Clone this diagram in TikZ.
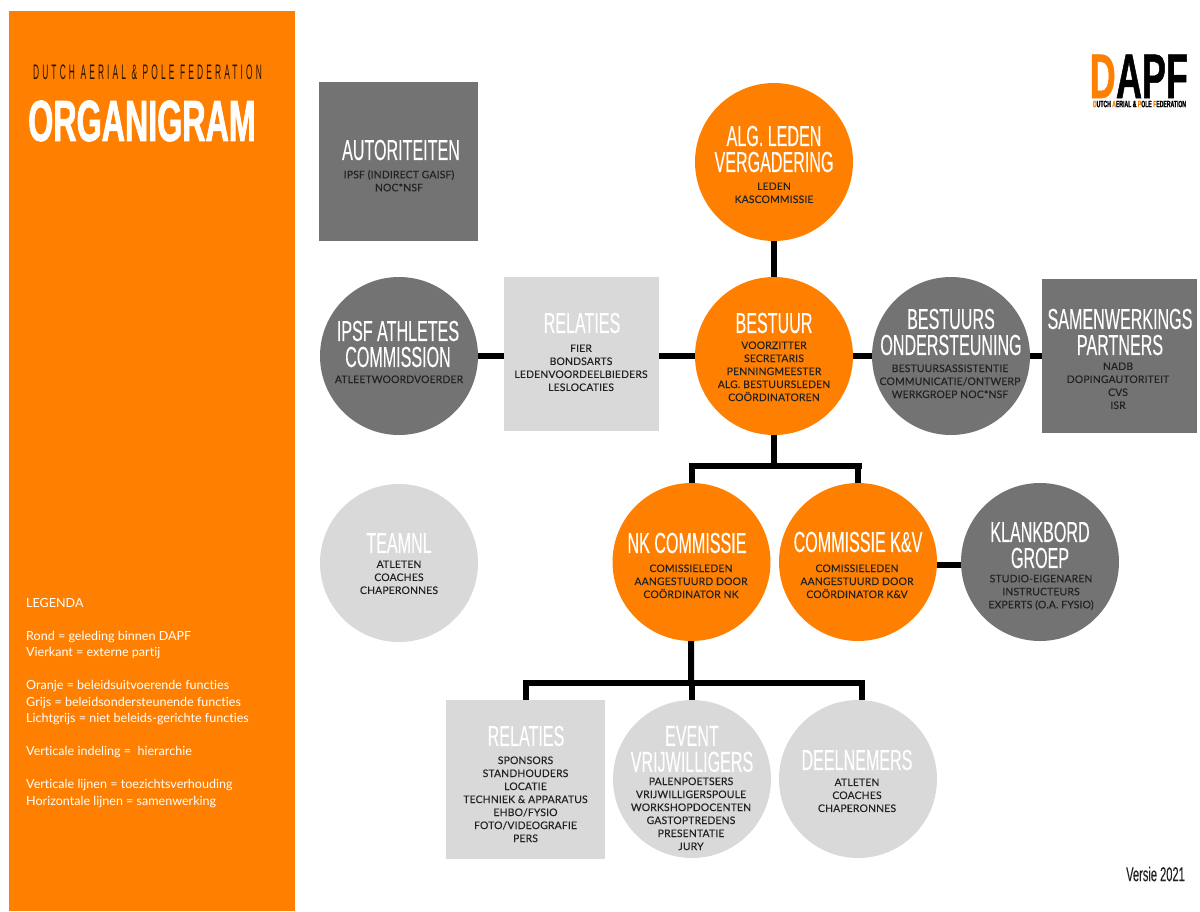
\documentclass[tikz,border=0pt]{standalone}
\usepackage{fontspec}
\setmainfont[Ligatures=NoCommon]{Lato}
\newfontfamily\headfont[FakeStretch=0.555,FakeBold=0.15]{Liberation Sans}
\newfontfamily\bigfont[FakeStretch=0.556,FakeBold=1.2]{Liberation Sans Bold}
\newfontfamily\logofont[FakeStretch=0.57,FakeBold=0.8]{Liberation Sans Bold}
\newfontfamily\subfont[FakeStretch=0.4,LetterSpace=15]{Liberation Sans}
\newfontfamily\listfont[Ligatures=NoCommon,LetterSpace=1.5,FakeBold=0.1]{Lato}
\definecolor{dapforange}{HTML}{FF8000}
\definecolor{dapfgrey}{HTML}{737373}
\definecolor{dapflight}{HTML}{D9D9D9}
\definecolor{dapftext}{HTML}{222222}
\tikzset{
    rond/.style={circle, minimum size=158pt, inner sep=0pt},
    vierkant/.style={rectangle, inner sep=0pt},
    kop/.style={text=white, align=center, inner sep=0pt, font=\headfont\fontsize{29}{26}\selectfont},
    lijst/.style={text=dapftext, align=center, inner sep=0pt, yshift=-0.3pt, font=\listfont\fontsize{10.4}{13}\selectfont},
    lijn/.style={line width=6pt, black}
}
\begin{document}
\begin{tikzpicture}[x=1pt, y=-1pt]
    \useasboundingbox (0,0) rectangle (1200,911);

    % zijbalk
    \fill[dapforange] (9,11) rectangle (295,911);
    \node[inner sep=0pt, text=black!85!dapforange, font=\subfont\fontsize{21}{21}\selectfont] (sub) at (147.5,72) {DUTCH AERIAL \& POLE FEDERATION};
    \node[inner sep=0pt, text=white, font=\bigfont\fontsize{58}{58}\selectfont] (titel) at (142,121) {ORGANIGRAM};
    \node[inner sep=0pt, anchor=north west, text=white, align=left, font=\fontsize{12.55}{16.5}\selectfont] (legenda) at (26,598) {LEGENDA\\[16.5pt]
        Rond = geleding binnen DAPF\\
        Vierkant = externe partij\\[16.5pt]
        Oranje = beleidsuitvoerende functies\\
        Grijs = beleidsondersteunende functies\\
        Lichtgrijs = niet beleids-gerichte functies\\[16.5pt]
        Verticale indeling = \ hierarchie\\[16.5pt]
        Verticale lijnen = toezichtsverhouding\\
        Horizontale lijnen = samenwerking};

    % logo
    \node[inner sep=0pt, anchor=base west, text=dapforange, font=\logofont\fontsize{63}{63}\selectfont] (logod) at (1089.5,98) {D};
    \node[inner sep=0pt, anchor=base west, text=black, font=\logofont\fontsize{63}{63}\selectfont] (logoapf) at (logod.base east) {APF};
    \node[inner sep=0pt, text=black, font=\bigfont\fontsize{9.2}{9}\selectfont] (logosub) at (1139.5,104) {\textcolor{dapforange}{D}UTCH \textcolor{dapforange}{A}ERIAL \& \textcolor{dapforange}{P}OLE \textcolor{dapforange}{F}EDERATION};

    % vormen
    \node[rond, fill=dapforange] (alv) at (774,162) {};
    \node[rond, fill=dapforange] (bestuur) at (774,356) {};
    \node[rond, fill=dapfgrey] (ipsf) at (399,356) {};
    \node[rond, fill=dapfgrey] (onder) at (951,356) {};
    \node[rond, fill=dapflight] (team) at (399,563) {};
    \node[rond, fill=dapforange] (nk) at (691.5,562) {};
    \node[rond, fill=dapforange] (kv) at (858,562) {};
    \node[rond, fill=dapfgrey] (klank) at (1040,562) {};
    \node[rond, fill=dapflight] (event) at (692,779) {};
    \node[rond, fill=dapflight] (deel) at (858,779) {};
    \node[vierkant, fill=dapfgrey, minimum size=159pt] (auto) at (398.5,161.5) {};
    \node[vierkant, fill=dapflight, minimum width=155pt, minimum height=154pt] (rel) at (581.5,354) {};
    \node[vierkant, fill=dapfgrey, minimum width=155pt, minimum height=154pt] (samen) at (1119.5,356) {};
    \node[vierkant, fill=dapflight, minimum size=159pt] (relnk) at (525.5,779.5) {};

    % lijnen
    \draw[lijn] (alv) -- (bestuur);
    \draw[lijn] (ipsf.east) -- (rel.west |- ipsf.east);
    \draw[lijn] (rel.east |- bestuur.west) -- (bestuur.west);
    \draw[lijn] (bestuur.east) -- (onder.west);
    \draw[lijn] (onder.east) -- (samen.west |- onder.east);
    \draw[lijn] ([yshift=-3pt]kv.east) -- ([yshift=-3pt]klank.west);
    \coordinate (splitb) at (774,465.5);
    \coordinate (splitn) at (691,683);
    \coordinate (hoekb) at (862,465.5);
    \coordinate (hoekn) at (865,683);
    \draw[lijn] (bestuur) -- (splitb);
    \draw[lijn] ([xshift=-3pt]nk.north |- splitb) -- (hoekb);
    \draw[lijn] (nk.north |- splitb) -- (nk.north);
    \draw[lijn] (kv.north |- splitb) -- (kv.north);
    \draw[lijn] (nk) -- (splitn);
    \draw[lijn] ([xshift=-3pt]relnk.north |- splitn) -- (hoekn);
    \draw[lijn] (relnk.north |- splitn) -- (relnk.north);
    \draw[lijn] (event.north |- splitn) -- (event.north);
    \draw[lijn] ([xshift=4pt]deel.north |- splitn) -- ([xshift=4pt]deel.north);

    % teksten
    \node[kop] (autokop) at (401,150) {AUTORITEITEN};
    \node[lijst] (autolijst) at (399,180.5) {IPSF (INDIRECT GAISF)\\NOC*NSF};
    \node[kop] (alvkop) at (774,149) {ALG. LEDEN\\VERGADERING};
    \node[lijst] (alvlijst) at (774,192.5) {LEDEN\\KASCOMMISSIE};
    \node[kop] (ipsfkop) at (398,344) {IPSF ATHLETES\\COMMISSION};
    \node[lijst] (ipsflijst) at (399,379) {ATLEETWOORDVOERDER};
    \node[kop] (relkop) at (582,323) {RELATIES};
    \node[lijst] (rellijst) at (581,367.5) {FIER\\BONDSARTS\\LEDENVOORDEELBIEDERS\\LESLOCATIES};
    \node[kop] (bestuurkop) at (774,323) {BESTUUR};
    \node[lijst] (bestuurlijst) at (774,371) {VOORZITTER\\SECRETARIS\\PENNINGMEESTER\\ALG. BESTUURSLEDEN\\COÖRDINATOREN};
    \node[kop] (onderkop) at (951,332) {BESTUURS\\ONDERSTEUNING};
    \node[lijst] (onderlijst) at (950,381) {BESTUURSASSISTENTIE\\COMMUNICATIE/ONTWERP\\WERKGROEP NOC*NSF};
    \node[kop] (samenkop) at (1120,332) {SAMENWERKINGS\\PARTNERS};
    \node[lijst] (samenlijst) at (1118,385.5) {NADB\\DOPINGAUTORITEIT\\CVS\\ISR};
    \node[kop] (teamkop) at (399,543) {TEAMNL};
    \node[lijst] (teamlijst) at (399,577) {ATLETEN\\COACHES\\CHAPERONNES};
    \node[kop] (nkkop) at (687,543) {NK COMMISSIE};
    \node[lijst] (nklijst) at (691,581) {COMISSIELEDEN\\AANGESTUURD DOOR\\COÖRDINATOR NK};
    \node[kop] (kvkop) at (858,542) {COMMISSIE K\&V};
    \node[lijst] (kvlijst) at (857,581) {COMISSIELEDEN\\AANGESTUURD DOOR\\COÖRDINATOR K\&V};
    \node[kop] (klankkop) at (1040,545) {KLANKBORD\\GROEP};
    \node[lijst] (klanklijst) at (1041,592) {STUDIO-EIGENAREN\\INSTRUCTEURS\\EXPERTS (O.A. FYSIO)};
    \node[kop] (relnkkop) at (526,736) {RELATIES};
    \node[lijst] (relnklijst) at (525.5,799) {SPONSORS\\STANDHOUDERS\\LOCATIE\\TECHNIEK \& APPARATUS\\EHBO/FYSIO\\FOTO/VIDEOGRAFIE\\PERS};
    \node[kop] (eventkop) at (692,749) {EVENT\\VRIJWILLIGERS};
    \node[lijst] (eventlijst) at (691,813.5) {PALENPOETSERS\\VRIJWILLIGERSPOULE\\WORKSHOPDOCENTEN\\GASTOPTREDENS\\PRESENTATIE\\JURY};
    \node[kop] (deelkop) at (857,760) {DEELNEMERS};
    \node[lijst] (deellijst) at (857,795) {ATLETEN\\COACHES\\CHAPERONNES};

    \node[inner sep=0pt, text=dapftext, font=\headfont\fontsize{20}{20}\selectfont] (versie) at (1155.5,874) {Versie 2021};
\end{tikzpicture}
\end{document}
